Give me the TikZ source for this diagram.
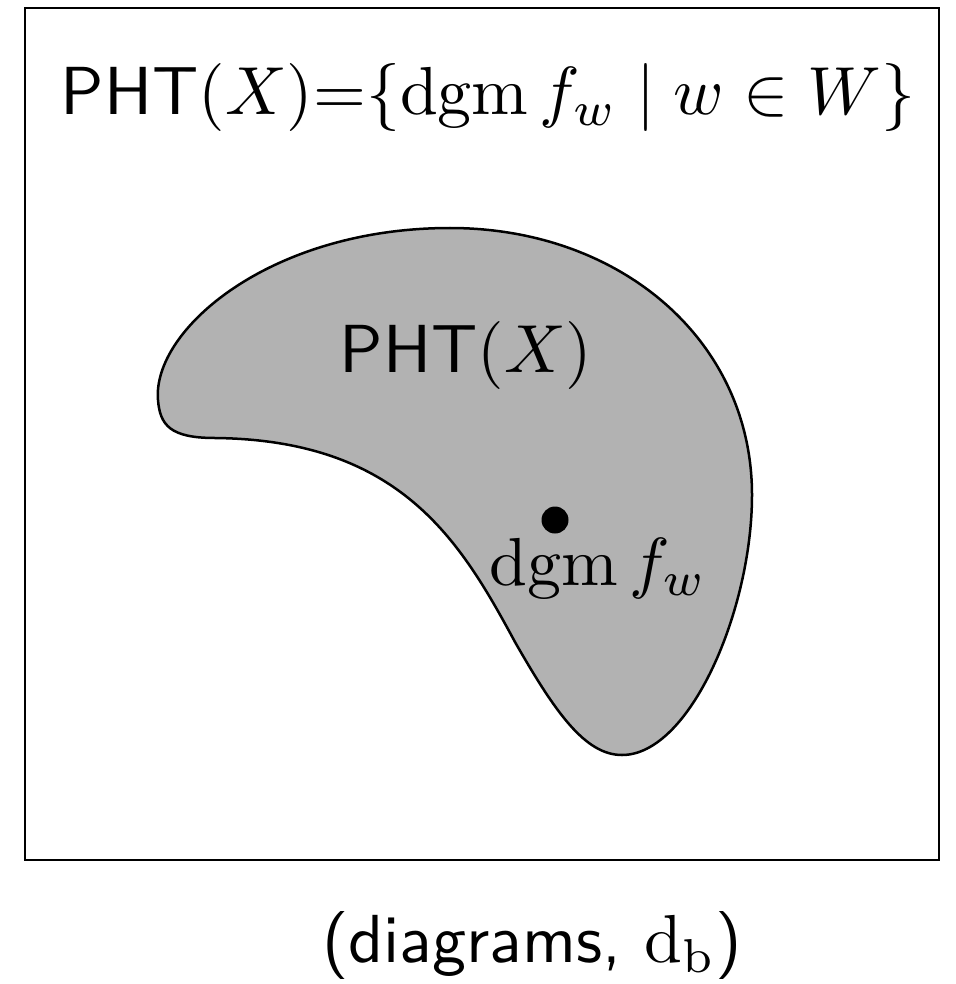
\documentclass[tikz,border=0pt]{standalone}
\usepackage{amsmath}
\usepackage{graphicx}
\newcommand{\bigtxt}[1]{\scalebox{6.8}{#1}}
\tikzset{
  frame/.style={draw=black, line width=2.3pt},
  blob/.style={draw=black, line width=2.5pt, fill=black!30},
  big/.style={inner sep=0pt},
  dotmark/.style={circle, fill=black, inner sep=0pt, minimum size=27pt}
}
\begin{document}
\begin{tikzpicture}[x=1pt,y=-1pt]
\useasboundingbox (0,0) rectangle (955,984);
\draw[frame] (25,8) rectangle (939,860);
\node[big] (title) at (488,98) {\bigtxt{$\textsf{PHT}(X){=}\{\operatorname{dgm} f_w \mid w \in W\}$}};
\draw[blob] (158,400) .. controls (152,330) and (270,228) .. (450,228)
  .. controls (620,228) and (752,340) .. (752,495)
  .. controls (752,610) and (690,755) .. (622,755)
  .. controls (585,755) and (555,712) .. (515,642)
  .. controls (460,540) and (400,440) .. (215,438)
  .. controls (170,438) and (160,425) .. (158,400) -- cycle;
\node[big] (pht) at (466,355) {\bigtxt{$\textsf{PHT}(X)$}};
\node[dotmark] (dot) at (555,520) {};
\node[big, anchor=north] (dgm) at (598,538) {\bigtxt{$\operatorname{dgm} f_w$}};
\node[big] (cap) at (532,945) {\bigtxt{\textsf{(diagrams, }$\mathrm{d_b}$\textsf{)}}};
\end{tikzpicture}
\end{document}
